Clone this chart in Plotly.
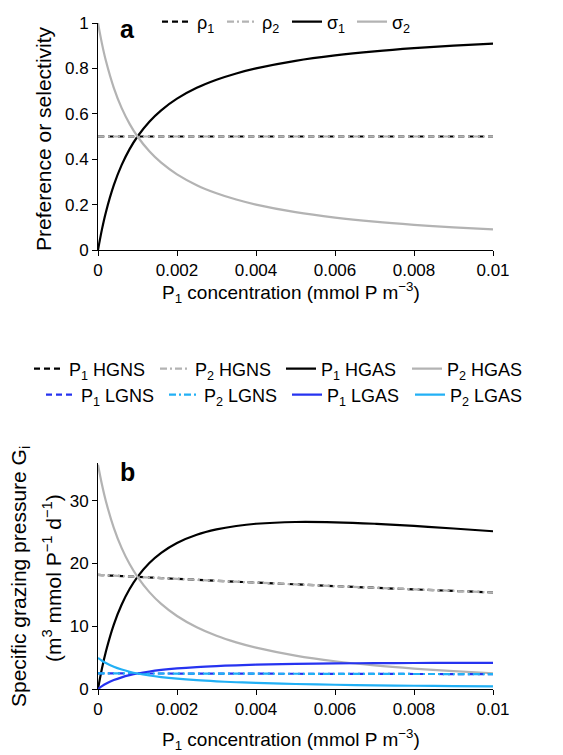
import plotly.graph_objects as go

# ---- data ----
p1 = [0, 0.0001, 0.0002, 0.0004, 0.0006, 0.0008, 0.001, 0.0013, 0.0016, 0.002,
      0.0025, 0.003, 0.0035, 0.004, 0.005, 0.006, 0.007, 0.008, 0.009, 0.01]

rho1 = [0.5] * 20
rho2 = [0.5] * 20
sigma1 = [0, 0.0909, 0.1667, 0.2857, 0.375, 0.4444, 0.5, 0.5652, 0.6154, 0.6667,
          0.7143, 0.75, 0.7778, 0.8, 0.8333, 0.8571, 0.875, 0.8889, 0.9, 0.9091]
sigma2 = [1, 0.9091, 0.8333, 0.7143, 0.625, 0.5556, 0.5, 0.4348, 0.3846, 0.3333,
          0.2857, 0.25, 0.2222, 0.2, 0.1667, 0.1429, 0.125, 0.1111, 0.1, 0.0909]

hgns_p1 = [18.18, 18.15, 18.12, 18.05, 17.99, 17.92, 17.86, 17.76, 17.67, 17.54,
           17.39, 17.24, 17.09, 16.95, 16.67, 16.39, 16.13, 15.87, 15.63, 15.38]
hgns_p2 = list(hgns_p1)
hgas_p1 = [0, 3.26, 5.98, 10.27, 13.46, 15.92, 17.86, 20.06, 21.69, 23.26,
           24.57, 25.42, 25.97, 26.32, 26.60, 26.55, 26.32, 25.97, 25.57, 25.13]
hgas_p2 = [35.71, 32.56, 29.90, 25.67, 22.44, 19.90, 17.86, 15.43, 13.56, 11.63,
           9.83, 8.47, 7.42, 6.58, 5.32, 4.42, 3.76, 3.25, 2.84, 2.51]
lgns_p1 = [2.488, 2.486, 2.485, 2.483, 2.480, 2.478, 2.475, 2.472, 2.468, 2.463,
           2.457, 2.451, 2.445, 2.439, 2.427, 2.415, 2.404, 2.392, 2.381, 2.370]
lgns_p2 = list(lgns_p1)
lgas_p1 = [0, 0.450, 0.826, 1.417, 1.859, 2.202, 2.475, 2.793, 3.035, 3.279,
           3.499, 3.659, 3.778, 3.868, 3.994, 4.071, 4.118, 4.145, 4.159, 4.163]
lgas_p2 = [4.95, 4.504, 4.131, 3.542, 3.099, 2.753, 2.475, 2.149, 1.897, 1.639,
           1.400, 1.220, 1.079, 0.967, 0.799, 0.678, 0.588, 0.518, 0.462, 0.416]

x_ticks = [0, 0.002, 0.004, 0.006, 0.008, 0.01]
x_ticktext = ["0", "0.002", "0.004", "0.006", "0.008", "0.01"]
ya_ticks = [0, 0.2, 0.4, 0.6, 0.8, 1]
ya_ticktext = ["0", "0.2", "0.4", "0.6", "0.8", "1"]
yb_ticks = [0, 10, 20, 30]

BLACK = "#000000"
GREY = "#b3b3b3"
BLUE = "#2633f0"
LBLUE = "#22b0f5"
DASH = "6px,4px"
DASHDOT = "7px,3px,2px,3px"
FONT = "Liberation Sans, Arial, sans-serif"
TICK_FS = 17
XT_FS = 19
YT_FS = 21
LEG_FS = 18
W = 2.2

fig = go.Figure()

def add(x, y, name, color, dash, xa, ya, leg, spline=True):
    fig.add_trace(go.Scatter(x=x, y=y, name=name, mode="lines",
                             line=dict(color=color, width=W, dash=dash,
                                       shape="spline" if spline else "linear"),
                             xaxis=xa, yaxis=ya, legend=leg))

# panel a
add(p1, rho1, "ρ<sub>1</sub>", BLACK, DASH, "x", "y", "legend", False)
add(p1, rho2, "ρ<sub>2</sub>", GREY, DASHDOT, "x", "y", "legend", False)
add(p1, sigma1, "σ<sub>1</sub>", BLACK, "solid", "x", "y", "legend")
add(p1, sigma2, "σ<sub>2</sub>", GREY, "solid", "x", "y", "legend")
# panel b (legend row 1)
add(p1, hgns_p1, "P<sub>1</sub> HGNS", BLACK, DASH, "x2", "y2", "legend2")
add(p1, hgns_p2, "P<sub>2</sub> HGNS", GREY, DASHDOT, "x2", "y2", "legend2")
add(p1, hgas_p1, "P<sub>1</sub> HGAS", BLACK, "solid", "x2", "y2", "legend2")
add(p1, hgas_p2, "P<sub>2</sub> HGAS", GREY, "solid", "x2", "y2", "legend2")
# panel b (legend row 2)
add(p1, lgns_p1, "P<sub>1</sub> LGNS", BLUE, DASH, "x2", "y2", "legend3")
add(p1, lgns_p2, "P<sub>2</sub> LGNS", LBLUE, DASHDOT, "x2", "y2", "legend3")
add(p1, lgas_p1, "P<sub>1</sub> LGAS", BLUE, "solid", "x2", "y2", "legend3")
add(p1, lgas_p2, "P<sub>2</sub> LGAS", LBLUE, "solid", "x2", "y2", "legend3")

# page body has an 8px margin: work in page pixels and convert
OFF = 8
FW, FH = 563 - OFF, 755 - OFF
def px_x(v):
    return (v - OFF) / FW
def px_y(v):
    return 1 - (v - OFF) / FH

xdom = [px_x(98), px_x(493)]
axis_common = dict(showline=True, linecolor="black", linewidth=1, ticks="outside", ticklen=5,
                   tickcolor="black", showgrid=False, zeroline=False, automargin=False,
                   tickfont=dict(size=TICK_FS, color="black", family=FONT))

leg_common = dict(orientation="h", bgcolor="rgba(0,0,0,0)",
                  font=dict(size=LEG_FS, color="black", family=FONT),
                  entrywidthmode="pixels", tracegroupgap=0, itemwidth=30,
                  xref="container", yref="container", xanchor="left", yanchor="middle")

def ann(text, x, y, size, angle=0):
    return dict(text=text, x=px_x(x), y=px_y(y), xref="paper", yref="paper",
                xanchor="center", yanchor="middle", textangle=angle, showarrow=False,
                font=dict(size=size, color="black", family=FONT))

xtitle_text = "P<sub>1</sub> concentration (mmol P m<sup>−3</sup>)"

fig.update_layout(
    width=FW, height=FH,
    margin=dict(l=0, r=0, t=0, b=0, autoexpand=False),
    paper_bgcolor="white", plot_bgcolor="white",
    font=dict(family=FONT, color="black", size=TICK_FS),
    showlegend=True,
    xaxis=dict(domain=xdom, anchor="y", range=[0, 0.01], tickvals=x_ticks, ticktext=x_ticktext,
               **axis_common),
    yaxis=dict(domain=[px_y(250), px_y(23)], anchor="x", range=[0, 1.0],
               tickvals=ya_ticks, ticktext=ya_ticktext, **axis_common),
    xaxis2=dict(domain=xdom, anchor="y2", range=[0, 0.01], tickvals=x_ticks, ticktext=x_ticktext,
                **axis_common),
    yaxis2=dict(domain=[px_y(689), px_y(463)], anchor="x2", range=[0, 36],
                tickvals=yb_ticks, **axis_common),
    legend=dict(x=px_x(157), y=px_y(22), entrywidth=20, **leg_common),
    legend2=dict(x=px_x(29), y=px_y(369), entrywidth=81, **leg_common),
    legend3=dict(x=px_x(41), y=px_y(395), entrywidth=78, **leg_common),
    annotations=[
        ann("<b>a</b>", 127, 29, 25),
        ann("<b>b</b>", 127, 472, 25),
        ann(xtitle_text, 291, 292, XT_FS),
        ann(xtitle_text, 291, 739, XT_FS),
        ann("Preference or selectivity", 44, 139, YT_FS, -90),
        ann("Specific grazing pressure G<sub>i</sub>", 20, 577, YT_FS, -90),
        ann("(m<sup>3</sup> mmol P<sup>−1</sup> d<sup>−1</sup>)", 52, 578, YT_FS, -90),
    ],
)

fig.write_html("out.html")
